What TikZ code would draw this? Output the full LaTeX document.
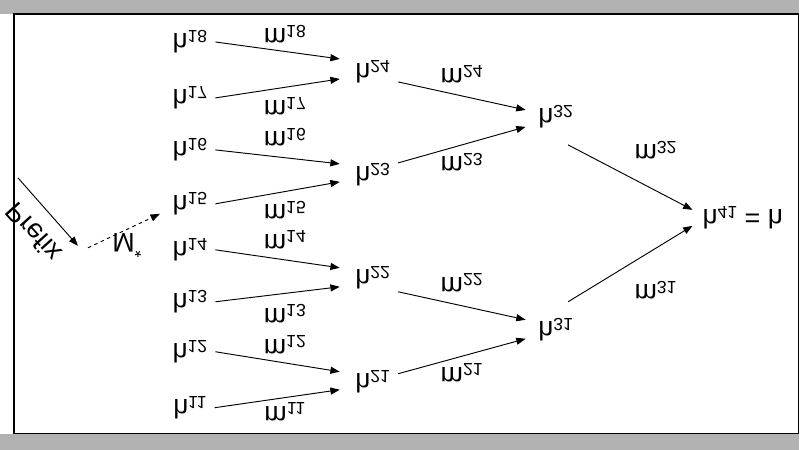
\documentclass[tikz,border=0pt]{standalone}
\usepackage{fontspec}
\setmainfont{Liberation Sans}
\usetikzlibrary{arrows.meta,calc}
\newcommand{\fl}[1]{\scalebox{1}[-1]{#1}}
\newcommand{\supx}[2]{#1\raisebox{-0.12em}{\fontsize{15}{17}\selectfont #2}}
\begin{document}
\begin{tikzpicture}[x=0.03cm,y=-0.03cm,
  lab/.style={inner sep=0pt,font=\fontsize{23}{26}\selectfont},
  arr/.style={-{Triangle[length=8pt,width=6pt]},line width=0.8pt}]
\fill[gray!60] (0,0) rectangle (800,450);
\fill[white] (0,14) rectangle (799,434);
\draw[line width=1pt] (14,434) -- (14,14) -- (800,14);
\draw[line width=1pt] (14,434) -- (799,434) -- (799,14);
\foreach \i/\y in {18/42,17/98,16/150,15/204,14/250,13/302,12/352,11/408}{
  \node[lab] (h\i) at (190,\y) {\fl{\supx{h}{\i}}};}
\foreach \i/\y in {24/72,23/175,22/278,21/382}{
  \node[lab] (h\i) at (373,\y) {\fl{\supx{h}{\i}}};}
\node[lab] (h32) at (556,117) {\fl{\supx{h}{32}}};
\node[lab] (h31) at (556,330) {\fl{\supx{h}{31}}};
\node[lab,anchor=west] (h41) at (703,218) {\fl{\supx{h}{41} = h}};
\coordinate (t18) at (340,59); \coordinate (t17) at (340,79);
\coordinate (t16) at (340,164); \coordinate (t15) at (340,182);
\coordinate (t14) at (340,268); \coordinate (t13) at (340,287);
\coordinate (t12) at (340,372); \coordinate (t11) at (340,390);
\foreach \i in {18,17,16,15,14,13,12,11}{
  \draw[arr] ($(h\i.east)+(8,0)$) -- (t\i);}
\coordinate (t24) at (526,110); \coordinate (t23) at (526,127);
\coordinate (t22) at (526,320); \coordinate (t21) at (526,339);
\foreach \i/\o in {24/10,23/-12,22/14,21/-8}{
  \draw[arr] ($(h\i.east)+(8,\o)$) -- (t\i);}
\coordinate (t32) at (693,210); \coordinate (t31) at (693,226);
\draw[arr] ($(h32.east)+(-5,28)$) -- (t32);
\draw[arr] ($(h31.east)+(-5,-28)$) -- (t31);
\foreach \i/\y in {18/34,17/106,16/137,15/210,14/240,13/314,12/345,11/412}{
  \node[lab] (w\i) at (285,\y) {\fl{\supx{m}{\i}}};}
\foreach \i/\y in {24/74,23/162,22/283,21/373}{
  \node[lab] (w\i) at (462,\y) {\fl{\supx{m}{\i}}};}
\node[lab] (w32) at (656,150) {\fl{\supx{m}{32}}};
\node[lab] (w31) at (656,290) {\fl{\supx{m}{31}}};
\coordinate (p0) at (18,178); \coordinate (p1) at (78,246);
\draw[arr] (p0) -- (p1);
\node[lab] (pre) at (33,233) {\fl{\rotatebox{48}{Prefix}}};
\coordinate (d0) at (88,248); \coordinate (d1) at (160,214);
\draw[arr,dashed] (d0) -- (d1);
\node[lab] (ws) at (127,246) {\fl{M\raisebox{0.45em}{\fontsize{15}{17}\selectfont *}}};
\end{tikzpicture}
\end{document}
